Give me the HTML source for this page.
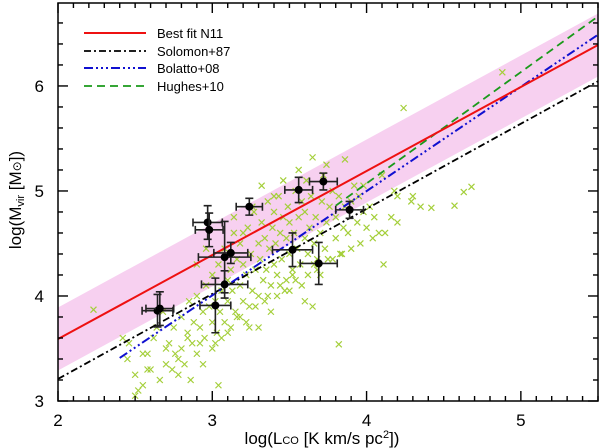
<!DOCTYPE html>
<html><head><meta charset="utf-8"><style>
html,body{margin:0;padding:0;background:#fff;}
svg{display:block;font-family:"Liberation Sans",sans-serif;}
</style></head><body>
<svg id="chart" width="600" height="448" xmlns="http://www.w3.org/2000/svg">
<defs><clipPath id="clip"><rect x="58" y="3" width="540" height="398"/></clipPath></defs>
<g id="plot" clip-path="url(#clip)"></g>
<g id="axes"></g>
</svg>
<script>
const xDomain=[2,5.5], yDomain=[3,6.79];
const xTicks=[2,3,4,5], yTicks=[3,4,5,6];
const bestFit={a:0.80,b:3.59,band:0.3};
const solomon={a:0.81,b:3.21,x0:2};
const bolatto={a:0.993,b:3.41,x0:2.4};
const hughes={a:1.06,b:4.86,x0:3.8};
// black points: x, y, xerr, yerr
const ptsX=[2.645,2.66,2.97,2.98,3.08,3.12,3.08,3.02,3.24,3.56,3.72,3.89,3.52,3.69];
const ptsY=[3.86,3.88,4.70,4.63,4.37,4.41,4.11,3.91,4.85,5.01,5.09,4.82,4.44,4.31];
const ptsXe=[0.10,0.09,0.095,0.09,0.17,0.11,0.15,0.10,0.085,0.09,0.09,0.09,0.13,0.12];
const ptsYe=[0.155,0.16,0.16,0.16,0.34,0.10,0.13,0.26,0.08,0.12,0.08,0.08,0.16,0.20];
// green crosses
const gX=[2.23,2.42,2.45,2.5,2.52,2.55,2.58,2.6,2.62,2.66,2.7,2.72,2.75,2.76,2.78,2.8,2.8,2.82,2.84,2.85,2.87,2.88,2.9,2.9,2.92,2.94,2.95,2.96,2.98,3.0,3.0,3.02,3.03,3.04,3.05,3.06,3.08,3.08,3.1,3.1,3.12,3.13,3.14,3.15,3.16,3.18,3.18,3.2,3.2,3.22,3.23,3.24,3.25,3.26,3.27,3.28,3.3,3.3,3.31,3.32,3.33,3.34,3.35,3.36,3.37,3.38,3.39,3.4,3.4,3.41,3.42,3.43,3.44,3.45,3.46,3.47,3.48,3.49,3.5,3.5,3.52,3.53,3.54,3.55,3.56,3.57,3.58,3.6,3.6,3.61,3.62,3.63,3.64,3.65,3.66,3.67,3.68,3.7,3.71,3.72,3.73,3.74,3.75,3.76,3.78,3.8,3.8,3.82,3.83,3.85,3.86,3.88,3.9,3.92,3.94,3.95,3.98,4.0,4.02,4.05,4.08,4.11,4.16,4.18,4.2,4.24,4.29,4.3,4.42,4.57,4.63,4.68,4.88,3.65,3.82,3.04,2.5,2.55,2.68,2.74,2.86,2.92,3.0,3.06,3.12,3.18,3.22,3.28,3.34,3.36,3.44,3.48,3.52,3.58,3.62,3.66,3.7,3.78,3.84,3.9,3.96,4.04,4.12,4.2,4.35,2.9,2.96,3.14,3.2,3.26,3.32,3.4,3.46,3.56,3.74,3.86,3.98,4.1,2.46,2.58,2.64,2.7,2.78,2.84,2.94,3.02,3.1,3.16,3.24,3.3,3.38,3.42,3.5,3.54,3.6,3.68];
const gY=[3.87,3.6,3.4,3.25,3.1,3.15,3.45,3.3,3.6,3.2,3.35,3.55,3.7,3.45,3.25,3.8,3.5,3.35,3.65,3.95,3.55,3.75,3.45,4.0,3.7,3.85,3.6,4.1,3.9,3.75,4.2,3.95,3.65,4.3,3.85,4.05,3.75,4.45,4.15,3.95,4.25,4.05,4.6,3.85,4.35,4.1,4.5,3.95,4.3,4.2,4.65,3.7,4.4,4.05,4.8,4.25,4.5,4.0,4.35,4.7,4.15,4.55,4.25,4.9,4.45,4.1,4.65,4.3,4.8,4.5,4.2,4.95,4.6,4.35,4.75,4.05,4.55,4.85,4.4,4.7,4.25,4.6,5.0,4.45,4.75,4.3,4.9,4.55,4.8,5.1,4.4,4.65,4.95,5.32,4.5,4.75,4.25,4.6,4.9,5.15,4.45,4.7,4.35,4.85,5.0,4.55,4.75,4.95,4.4,4.65,4.85,4.6,4.9,5.05,4.7,4.95,4.8,4.65,4.85,4.75,4.6,4.3,4.75,5.0,4.95,5.79,4.9,4.95,4.84,4.86,4.99,5.04,6.13,3.9,3.54,3.15,3.05,3.45,3.85,3.3,3.2,3.55,3.5,3.6,3.7,3.8,3.75,3.9,3.95,4.0,4.1,4.15,4.2,4.1,4.2,4.3,4.2,4.35,4.4,4.45,4.5,4.55,4.6,4.7,4.85,4.3,4.45,4.75,4.6,4.85,5.05,4.95,5.1,5.2,5.25,5.3,5.05,5.15,3.55,3.3,3.7,3.5,3.4,3.6,3.35,3.55,3.65,3.8,3.9,3.7,3.85,4.0,4.05,4.15,3.95,4.35];

const X0=58,X1=598,Y0=401,Y1=3;
const sx=v=>X0+(v-xDomain[0])/(xDomain[1]-xDomain[0])*(X1-X0);
const sy=v=>Y0-(v-yDomain[0])/(yDomain[1]-yDomain[0])*(Y0-Y1);
const NS="http://www.w3.org/2000/svg";
function mk(tag,attrs,parent){const e=document.createElementNS(NS,tag);for(const k in attrs)e.setAttribute(k,attrs[k]);parent.appendChild(e);return e;}
const plot=document.getElementById('plot'),axes=document.getElementById('axes');

const xa=xDomain[0],xb=xDomain[1];
let band=mk('polygon',{points:[[sx(xa),sy(bestFit.b+bestFit.band)],[sx(xb),sy(bestFit.b+bestFit.a*(xb-xa)+bestFit.band)],[sx(xb),sy(bestFit.b+bestFit.a*(xb-xa)-bestFit.band)],[sx(xa),sy(bestFit.b-bestFit.band)]].map(p=>p.join(',')).join(' '),fill:'#f7d0f0'},plot);



for(let i=0;i<gX.length;i++){
  const cx=sx(gX[i]),cy=sy(gY[i]),r=3;
  const g=mk('path',{d:`M${cx-r},${cy-r}L${cx+r},${cy+r}M${cx-r},${cy+r}L${cx+r},${cy-r}`,stroke:'#a4cf3a','stroke-width':1.2},plot);
  
  
}
function line(m,color,dash,name,w){
  const xs=m.x0;
  const l=mk('line',{x1:sx(xs),y1:sy(m.b),x2:sx(xb),y2:sy(m.b+m.a*(xb-xs)),stroke:color,'stroke-width':w||2,'stroke-dasharray':dash||'none'},plot);
  
  
}
line(solomon,'#000','7,3,2,3','solomon87-line',1.8);
line(hughes,'#1a9a1a','8,5','hughes10-line',1.8);
line(bolatto,'#1010d0','9,3,2,3,2,3,2,3','bolatto08-line',2);
line({a:bestFit.a,b:bestFit.b,x0:2},'#ee1111','','best-fit-n11-line',2);

for(let i=0;i<ptsX.length;i++){
  const cx=sx(ptsX[i]),cy=sy(ptsY[i]);
  const x1=sx(ptsX[i]-ptsXe[i]),x2=sx(ptsX[i]+ptsXe[i]),y1=sy(ptsY[i]+ptsYe[i]),y2=sy(ptsY[i]-ptsYe[i]);
  const g=mk('g',{},plot);
  
  
  mk('path',{d:`M${x1},${cy}H${x2}M${x1},${cy-4}V${cy+4}M${x2},${cy-4}V${cy+4}M${cx},${y1}V${y2}M${cx-4},${y1}H${cx+4}M${cx-4},${y2}H${cx+4}`,stroke:'#222','stroke-width':1.6,fill:'none'},g);
  mk('circle',{cx:cx,cy:cy,r:4,fill:'#000'},g);
}

const fr=mk('rect',{x:X0,y:Y1,width:X1-X0,height:Y0-Y1,fill:'none',stroke:'#000','stroke-width':1.5},axes);


const tg=mk('g',{stroke:'#000','stroke-width':1.4},axes);


for(let n=0;n<=35;n++){const v=2+n/10;const x=sx(v);const L=(n%10===0)?10:5;
  mk('line',{x1:x,y1:Y0,x2:x,y2:Y0-L},tg);mk('line',{x1:x,y1:Y1,x2:x,y2:Y1+L},tg);}
for(let n=0;n<=18;n++){const v=3+n/5;const y=sy(v);const L=(n%5===0)?10:5;
  mk('line',{x1:X0,y1:y,x2:X0+L,y2:y},tg);mk('line',{x1:X1,y1:y,x2:X1-L,y2:y},tg);}
xTicks.forEach(v=>{const t=mk('text',{x:sx(v),y:426,'text-anchor':'middle','font-size':17},axes);t.textContent=v;
  
  });
yTicks.forEach(v=>{const t=mk('text',{x:44,y:sy(v)+6,'text-anchor':'end','font-size':17},axes);t.textContent=v;
  
  });
</script>
<svg style="position:absolute;left:0;top:0" width="600" height="448" xmlns="http://www.w3.org/2000/svg">
<text x="322" y="444" text-anchor="middle" font-size="17" font-family="Liberation Sans,sans-serif">log(L<tspan font-size="11">CO</tspan> [K km/s pc<tspan font-size="11" dy="-6">2</tspan><tspan dy="6">])</tspan></text>
<text transform="translate(21,200) rotate(-90)" text-anchor="middle" font-size="17" font-family="Liberation Sans,sans-serif">log(M<tspan font-size="11" dy="3">vir</tspan><tspan dy="-3"> [M</tspan><tspan font-size="12">⊙</tspan>])</text>
<g font-size="13" font-family="Liberation Sans,sans-serif">
<g><line x1="84" y1="33" x2="146" y2="33" stroke="#ee1111" stroke-width="2"/><text x="157" y="38">Best fit N11</text></g>
<g><line x1="84" y1="51" x2="146" y2="51" stroke="#000" stroke-width="1.8" stroke-dasharray="7,3,2,3"/><text x="157" y="56">Solomon+87</text></g>
<g><line x1="84" y1="68" x2="146" y2="68" stroke="#1010d0" stroke-width="2" stroke-dasharray="9,3,2,3,2,3,2,3"/><text x="157" y="73">Bolatto+08</text></g>
<g><line x1="84" y1="86" x2="146" y2="86" stroke="#1a9a1a" stroke-width="1.8" stroke-dasharray="8,5"/><text x="157" y="91">Hughes+10</text></g>
</g>
</svg>
</body></html>
